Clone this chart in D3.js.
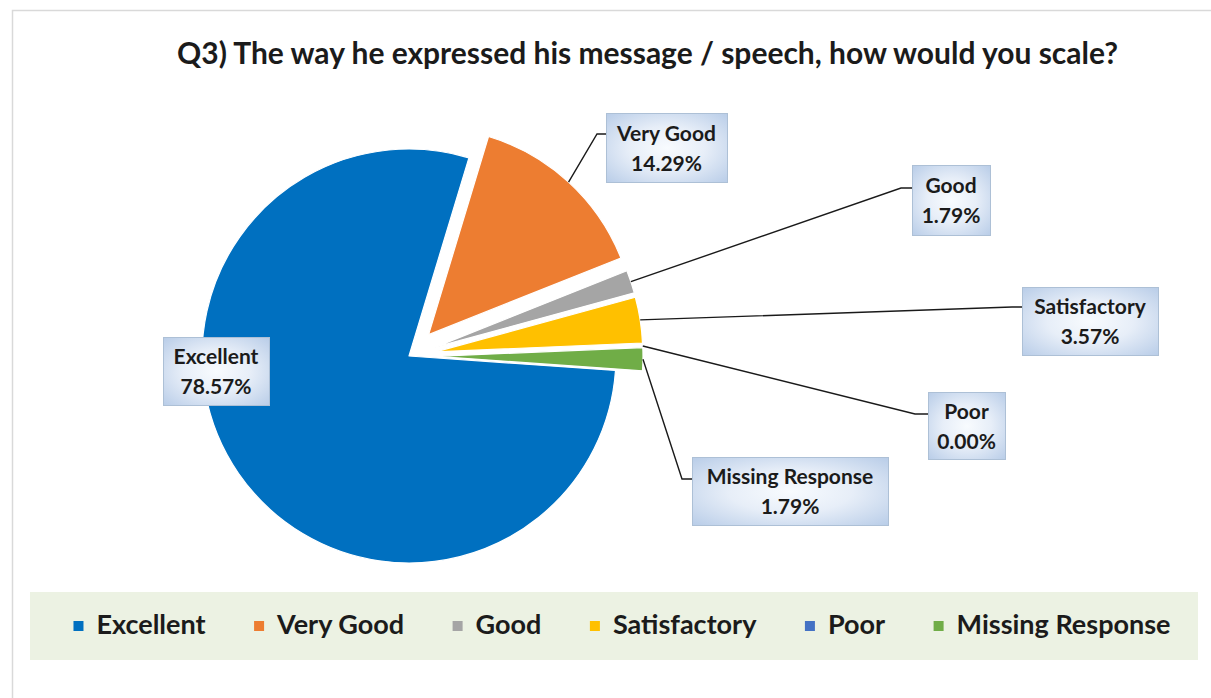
<!DOCTYPE html>
<html>
<head>
<meta charset="utf-8">
<script src="https://cdn.jsdelivr.net/npm/d3@7"></script>
<style>
  html, body { margin: 0; padding: 0; background: #ffffff; }
  svg { display: block; font-family: Lato, "Open Sans", "DejaVu Sans", sans-serif; }
</style>
</head>
<body>
<svg id="chart" width="1211" height="698"></svg>
<script>
// ---- data ----
const categories = ["Excellent", "Very Good", "Good", "Satisfactory", "Poor", "Missing Response"];
const percentages = [78.57, 14.29, 1.79, 3.57, 0.00, 1.79];
const sliceColors = ["#0070C0", "#ED7D31", "#A5A5A5", "#FFC000", "#4472C4", "#70AD47"];
const titleText = "Q3) The way he expressed his message / speech, how would you scale?";

// ---- layout ----
const W = 1211, H = 698;
const cx = 409, cy = 356, R = 207;
const startDeg = 94;                       // angle of the first slice, clockwise from 12 o'clock
const explode = [0, 29, 27, 27, 27, 27];   // outward offset of each slice
// data label boxes; ay = y where the leader joins the box, ex = elbow x
const labelBoxes = [
  { x: 163, y: 337, w: 106, h: 68, ay: null, ex: null },
  { x: 606, y: 113, w: 121, h: 69, ay: 134, ex: 597 },
  { x: 912, y: 165, w: 78,  h: 70, ay: 188, ex: 901 },
  { x: 1022, y: 287, w: 136, h: 68, ay: 307, ex: 1012 },
  { x: 928, y: 392, w: 77,  h: 67, ay: 414, ex: 915 },
  { x: 692, y: 457, w: 196, h: 68, ay: 479, ex: 682 }
];
const textColor = "#1b1b1b";

const svg = d3.select("#chart");

// gradient used by the data label boxes
const defs = svg.append("defs");
const grad = defs.append("radialGradient").attr("id", "boxFill")
  .attr("cx", "50%").attr("cy", "50%").attr("r", "70%");
grad.append("stop").attr("offset", "0%").attr("stop-color", "#f8fbfe");
grad.append("stop").attr("offset", "45%").attr("stop-color", "#e7eef8");
grad.append("stop").attr("offset", "100%").attr("stop-color", "#b9cde8");

// chart area border
svg.append("rect")
  .attr("x", 12.5).attr("y", 10.5)
  .attr("width", 1220).attr("height", 720)
  .attr("fill", "#ffffff").attr("stroke", "#d9d9d9").attr("stroke-width", 1.5);

// title, sized to span its line
const title = svg.append("text")
  .attr("x", 647.5).attr("y", 64)
  .attr("text-anchor", "middle")
  .attr("font-weight", 700)
  .attr("font-size", 28)
  .attr("fill", textColor)
  .text(titleText);
{
  const len = title.node().getComputedTextLength();
  title.attr("font-size", 28 * 941 / len);
}

// ---- pie ----
const a0 = startDeg * Math.PI / 180;
const pie = d3.pie().sort(null).value(d => d.value)
  .startAngle(a0).endAngle(a0 + 2 * Math.PI);
const rows = categories.map((c, i) => ({ name: c, value: percentages[i], color: sliceColors[i], i }));
const arcs = pie(rows);
const arc = d3.arc().innerRadius(0).outerRadius(R);
const rim = d3.arc().innerRadius(R).outerRadius(R);

function offsetOf(d) {
  const mid = (d.startAngle + d.endAngle) / 2;
  const e = explode[d.data.i];
  return [e * Math.sin(mid), -e * Math.cos(mid)];
}

const pieG = svg.append("g").attr("transform", `translate(${cx},${cy})`);
pieG.selectAll("path.slice")
  .data(arcs.filter(d => d.data.value > 0))
  .join("path")
  .attr("class", "slice")
  .attr("d", arc)
  .attr("transform", d => { const o = offsetOf(d); return `translate(${o[0]},${o[1]})`; })
  .attr("fill", d => d.data.color)
  .attr("stroke", "#ffffff")
  .attr("stroke-width", 1.2)
  .attr("stroke-linejoin", "round");

// ---- leader lines ----
const fmt = d3.format(".2f");
arcs.forEach(d => {
  const b = labelBoxes[d.data.i];
  if (b.ay === null) return;
  const o = offsetOf(d);
  const c = rim.centroid(d);
  const p0 = [cx + o[0] + c[0], cy + o[1] + c[1]];
  svg.append("polyline")
    .attr("points", [p0, [b.ex, b.ay], [b.x, b.ay]].map(p => p.join(",")).join(" "))
    .attr("fill", "none")
    .attr("stroke", "#1a1a1a")
    .attr("stroke-width", 1.4);
});

// ---- data labels ----
const labG = svg.append("g");
arcs.forEach(d => {
  const b = labelBoxes[d.data.i];
  const g = labG.append("g");
  g.append("rect")
    .attr("x", b.x + 0.5).attr("y", b.y + 0.5)
    .attr("width", b.w).attr("height", b.h)
    .attr("fill", "url(#boxFill)")
    .attr("stroke", "#adc0d6").attr("stroke-width", 1);
  const tx = b.x + b.w / 2, ty = b.y + b.h / 2;
  g.append("text")
    .attr("x", tx).attr("y", ty - 7)
    .attr("text-anchor", "middle")
    .attr("font-size", 21).attr("font-weight", 700)
    .attr("fill", textColor)
    .text(d.data.name);
  g.append("text")
    .attr("x", tx).attr("y", ty + 23)
    .attr("text-anchor", "middle")
    .attr("font-size", 21).attr("font-weight", 700)
    .attr("fill", textColor)
    .text(fmt(d.data.value) + "%");
});

// ---- legend ----
svg.append("rect")
  .attr("x", 30).attr("y", 592).attr("width", 1168).attr("height", 68)
  .attr("fill", "#ecf2e3");

const legG = svg.append("g");
const items = categories.map((c, i) => {
  const g = legG.append("g");
  g.append("rect").attr("class", "sw")
    .attr("width", 10).attr("height", 10)
    .attr("fill", sliceColors[i]);
  const t = g.append("text")
    .attr("font-size", 27).attr("font-weight", 700)
    .attr("fill", textColor)
    .text(c);
  return { g, t, w: t.node().getComputedTextLength() };
});
const swGap = 23, itemGap = 48.5;
const total = d3.sum(items, it => swGap + it.w) + itemGap * (items.length - 1);
let lx = 622 - total / 2;
items.forEach(it => {
  it.g.select("rect.sw").attr("x", lx).attr("y", 621);
  it.t.attr("x", lx + swGap).attr("y", 634);
  lx += swGap + it.w + itemGap;
});
</script>
</body>
</html>
